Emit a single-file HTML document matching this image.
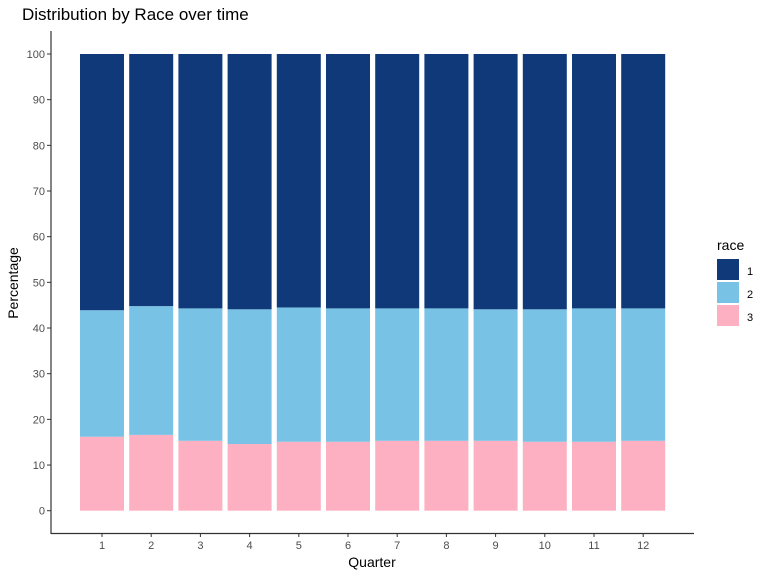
<!DOCTYPE html>
<html><head><meta charset="utf-8"><style>
body{margin:0;background:#fff;font-family:"Liberation Sans",Arial,sans-serif}
svg text{font-family:"Liberation Sans",Arial,sans-serif}
</style></head><body>
<svg id="chart" width="768" height="576" xmlns="http://www.w3.org/2000/svg">
<text x="22" y="20" font-size="17" fill="#000">Distribution by Race over time</text>
<g id="bars"></g>
<g id="yaxis"></g>
<g id="xaxis"></g>
<text transform="translate(18,283) rotate(-90)" text-anchor="middle" font-size="14">Percentage</text>
<text x="372" y="567" text-anchor="middle" font-size="14">Quarter</text>
<g>
<text x="717" y="250" font-size="14">race</text>
<rect x="717" y="259" width="22" height="21" fill="#10397A"/>
<text x="747" y="275" font-size="11">1</text>
<rect x="717" y="282" width="22" height="21" fill="#78C2E5"/>
<text x="747" y="298" font-size="11">2</text>
<rect x="717" y="305" width="22" height="21" fill="#FDB0C2"/>
<text x="747" y="321" font-size="11">3</text>
</g>
</svg>
<script>
const categories=["1","2","3","4","5","6","7","8","9","10","11","12"];
const race3=[16.2,16.6,15.3,14.6,15.1,15.1,15.3,15.3,15.3,15.1,15.1,15.3];
const race2=[27.7,28.2,29.0,29.5,29.4,29.2,29.0,29.0,28.8,29.0,29.2,29.0];
const race1=[56.1,55.2,55.7,55.9,55.5,55.7,55.7,55.7,55.9,55.9,55.7,55.7];
const yTicks=[0,10,20,30,40,50,60,70,80,90,100];
const NS="http://www.w3.org/2000/svg";
function y(v){return 510.7-4.567*v;}
function xc(i){return 102+i*49.2;}
const bw=44;
const bars=document.getElementById('bars');
function mk(tag,attrs,parent){const e=document.createElementNS(NS,tag);for(const k in attrs)e.setAttribute(k,attrs[k]);parent.appendChild(e);return e;}
categories.forEach((c,i)=>{
  const series=[[race3[i],'#FDB0C2','3'],[race2[i],'#78C2E5','2'],[race1[i],'#10397A','1']];
  let base=0;
  series.forEach(s=>{
    const r=mk('rect',{x:xc(i)-bw/2,y:y(base+s[0]),width:bw,height:y(base)-y(base+s[0]),fill:s[1]},bars);
    
    
    base+=s[0];
  });
});
const ya=document.getElementById('yaxis');
const yl=mk('line',{x1:51,y1:31,x2:51,y2:534,stroke:'#333','stroke-width':1.2},ya);


yTicks.forEach(t=>{
  const tk=mk('line',{x1:47,y1:y(t),x2:51,y2:y(t),stroke:'#333','stroke-width':1},ya);
  
  
  const tx=mk('text',{x:45,y:y(t)+4,'text-anchor':'end','font-size':11,fill:'#4d4d4d'},ya);
  tx.textContent=t;
  
  
});
const xa=document.getElementById('xaxis');
const xl=mk('line',{x1:51,y1:533.5,x2:694,y2:533.5,stroke:'#333','stroke-width':1.2},xa);


categories.forEach((c,i)=>{
  const tk=mk('line',{x1:xc(i),y1:533,x2:xc(i),y2:537,stroke:'#333','stroke-width':1},xa);
  
  
  const tx=mk('text',{x:xc(i),y:549,'text-anchor':'middle','font-size':11,fill:'#4d4d4d'},xa);
  tx.textContent=c;
  
  
});
</script>
</body></html>
